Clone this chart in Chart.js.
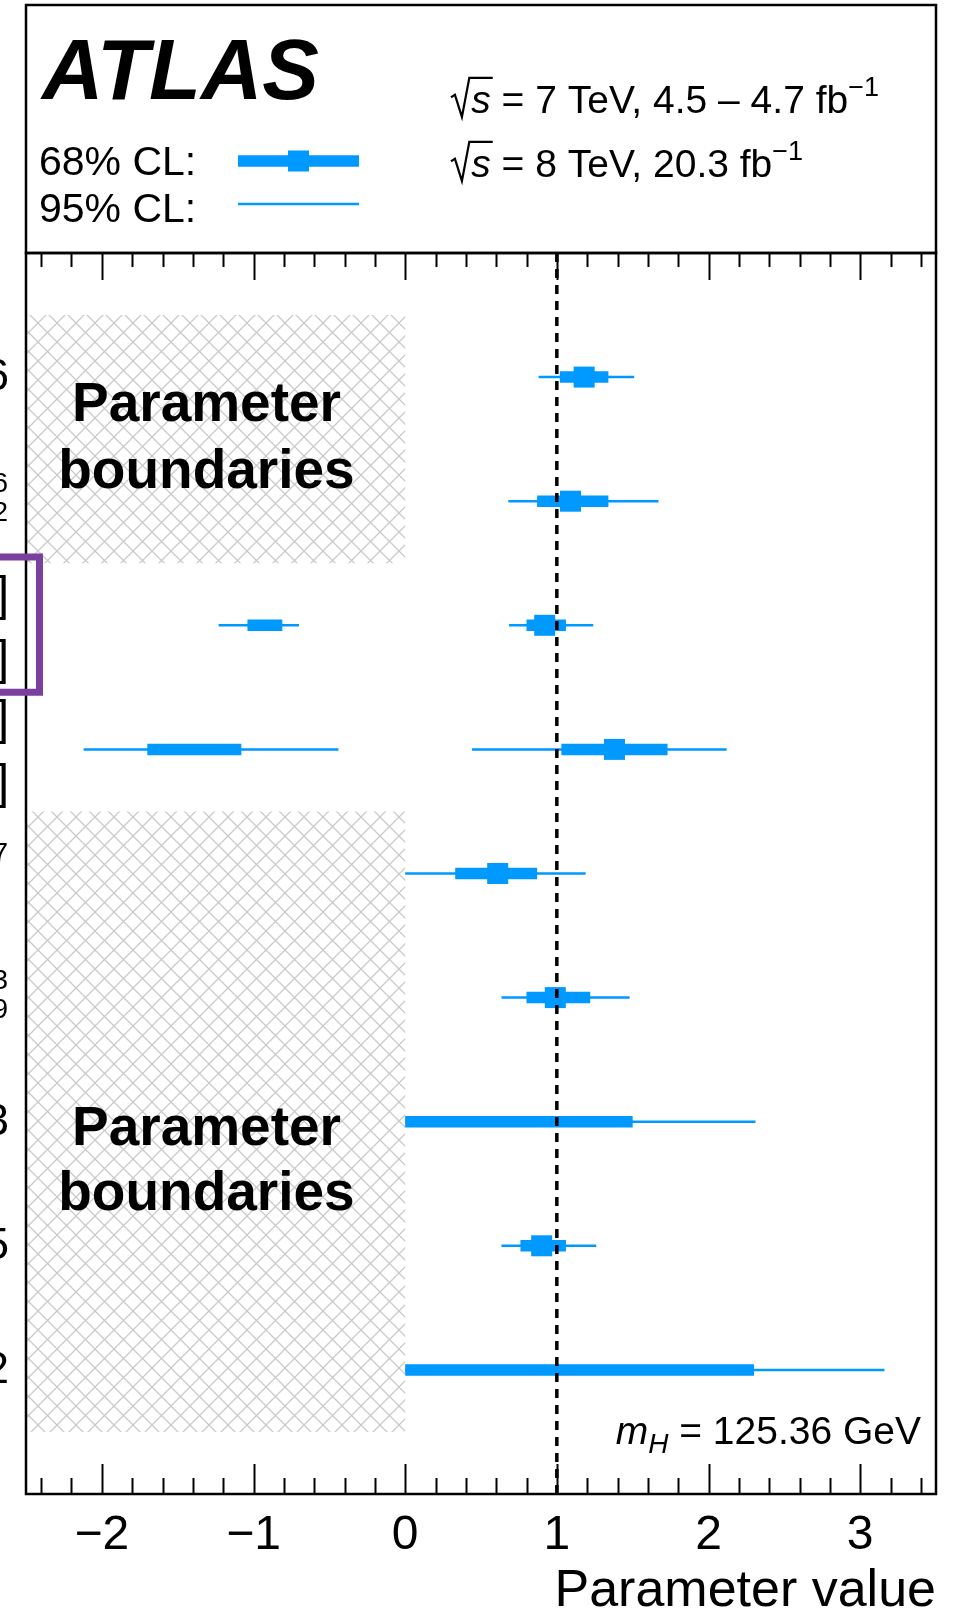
<!DOCTYPE html>
<html>
<head>
<meta charset="utf-8">
<script src="https://cdn.jsdelivr.net/npm/chart.js@4.4.1/dist/chart.umd.min.js"></script>
<style>
  html, body { margin: 0; padding: 0; background: #fff; }
  #wrap { width: 957px; height: 1608px; }
</style>
</head>
<body>
<div id="wrap"><canvas id="chart-params" width="957" height="1608"></canvas></div>
<script>
/*  ---------------------------- DATA ----------------------------  */
// one entry per interval; rows counted from the top
const rows     = [1,    2,    3,      3,     4,     4,    5,    6,     7,    8,     9];
const bestFit  = [1.18, 1.09, -0.925, 0.92,  -1.39, 1.38, 0.61, 0.99,  0.75, 0.90,  1.15];
const lo68     = [1.02, 0.87, -1.04,  0.80,  -1.70, 1.03, 0.33, 0.80,  0.00, 0.76,  0.00];
const hi68     = [1.34, 1.34, -0.81,  1.06,  -1.08, 1.73, 0.87, 1.22,  1.50, 1.06,  2.30];
const lo95     = [0.88, 0.68, -1.23,  0.685, -2.12, 0.44, 0.00, 0.635, 0.00, 0.635, 0.00];
const hi95     = [1.51, 1.67, -0.70,  1.24,  -0.44, 2.12, 1.19, 1.48,  2.31, 1.26,  3.16];
const hasMarker = [true, true, false, true,  false, true, true, true,  false, true, false];

const xTicks = [-2, -1, 0, 1, 2, 3];
const xTickLabels = ["\u22122", "\u22121", "0", "1", "2", "3"];
const smValue = 1;

// hatched "Parameter boundaries" areas: x from -2.5 to 0, y in row units
const boundaryRows = [[0.5, 2.5], [4.5, 9.5]];
const boundaryText = ["Parameter", "boundaries"];

// right ends of the row labels that survive the crop on the left
const rowLabelEnds = [["6"], ["6", "2"], ["]", "]"], ["]", "]"], ["7"], ["3", "9"], ["3"], ["5"], ["2"]];
/*  --------------------------------------------------------------  */

const BLUE = "#0099ff";
const FONT = "'Liberation Sans', Arial, Helvetica, sans-serif";

function ciSegments(lo, hi) {
  const pts = [];
  rows.forEach((r, i) => {
    pts.push({ x: lo[i], y: r }, { x: hi[i], y: r }, { x: null, y: null });
  });
  return pts;
}

function makeHatch(ctx) {
  const p = 19;
  const c = document.createElement("canvas");
  c.width = p;
  c.height = p;
  const g = c.getContext("2d");
  g.strokeStyle = "#cacaca";
  g.lineWidth = 1.3;
  g.beginPath();
  for (const dx of [-p, 0, p]) {
    g.moveTo(dx, 0); g.lineTo(dx + p, p);
    g.moveTo(dx + p, 0); g.lineTo(dx, p);
  }
  g.stroke();
  return ctx.createPattern(c, "repeat");
}

// text made of pieces with their own font and vertical shift
function drawRich(ctx, parts, x, y, align) {
  let w = 0;
  parts.forEach((p) => { ctx.font = p.font; w += ctx.measureText(p.t).width; });
  let cx = align === "right" ? x - w : x;
  ctx.textAlign = "left";
  ctx.textBaseline = "alphabetic";
  parts.forEach((p) => {
    ctx.font = p.font;
    ctx.fillText(p.t, cx, y + (p.dy || 0));
    cx += ctx.measureText(p.t).width;
  });
  return cx;
}

function drawSqrtS(ctx, x, b, size, rest) {
  ctx.font = `italic ${size}px ${FONT}`;
  const sw = ctx.measureText("s").width;
  ctx.save();
  ctx.lineWidth = 2.2;
  ctx.lineJoin = "miter";
  ctx.beginPath();
  ctx.moveTo(x, b - 0.40 * size);
  ctx.lineTo(x + 0.10 * size, b - 0.47 * size);
  ctx.lineTo(x + 0.28 * size, b + 0.10 * size);
  ctx.lineTo(x + 0.47 * size, b - 0.90 * size);
  ctx.lineTo(x + 0.52 * size + sw + 0.05 * size, b - 0.90 * size);
  ctx.stroke();
  ctx.restore();
  ctx.fillStyle = "#000";
  drawRich(ctx, [{ t: "s", font: `italic ${size}px ${FONT}` }].concat(rest), x + 0.52 * size, b, "left");
}

const decorations = {
  id: "decorations",
  beforeDatasetsDraw(chart) {
    const { ctx, scales: { x, y } } = chart;
    ctx.save();
    ctx.fillStyle = makeHatch(ctx);
    boundaryRows.forEach(([y0, y1]) => {
      const x0 = x.getPixelForValue(-2.5), x1 = x.getPixelForValue(0);
      const p0 = y.getPixelForValue(y0), p1 = y.getPixelForValue(y1);
      ctx.fillRect(x0, p0, x1 - x0, p1 - p0);
    });
    ctx.fillStyle = "#000";
    ctx.font = `bold 55px ${FONT}`;
    ctx.textAlign = "center";
    ctx.textBaseline = "alphabetic";
    const cx = x.getPixelForValue(-1.31);
    [[1.35, 1.89], [7.19, 7.71]].forEach(([r0, r1]) => {
      ctx.fillText(boundaryText[0], cx, y.getPixelForValue(r0));
      ctx.fillText(boundaryText[1], cx, y.getPixelForValue(r1));
    });
    ctx.restore();
  },
  afterDatasetsDraw(chart) {
    const { ctx, chartArea: a, scales: { x, y } } = chart;
    ctx.save();
    ctx.strokeStyle = "#000";
    ctx.fillStyle = "#000";

    // frames
    ctx.lineWidth = 2.5;
    ctx.strokeRect(a.left, a.top, a.right - a.left, a.bottom - a.top);
    ctx.strokeRect(a.left, 5, a.right - a.left, a.top - 5);

    // ticks on top and bottom, pointing inwards
    ctx.lineWidth = 2;
    ctx.beginPath();
    for (let k = -12; k <= 17; k++) {
      const px = Math.round(x.getPixelForValue(k / 5)) + 0.5;
      const major = k % 5 === 0;
      ctx.moveTo(px, a.top); ctx.lineTo(px, a.top + (major ? 27 : 14));
      ctx.moveTo(px, a.bottom); ctx.lineTo(px, a.bottom - (major ? 30 : 16));
    }
    ctx.stroke();

    // ATLAS label and legend
    ctx.textAlign = "left";
    ctx.textBaseline = "alphabetic";
    ctx.font = `italic bold 85px ${FONT}`;
    ctx.fillText("ATLAS", 42, 99);

    ctx.font = `41px ${FONT}`;
    ctx.fillText("68% CL:", 39, 175);
    ctx.fillText("95% CL:", 39, 222);

    ctx.fillStyle = BLUE;
    ctx.fillRect(238, 161 - 5.75, 121, 11.5);
    ctx.fillRect(298.5 - 10.5, 161 - 10.5, 21, 21);
    ctx.fillRect(238, 204 - 1.25, 121, 2.5);

    ctx.fillStyle = "#000";
    const f = `39px ${FONT}`, fs = `27px ${FONT}`;
    drawSqrtS(ctx, 451, 113, 39, [
      { t: " = 7 TeV, 4.5 \u2013 4.7 fb", font: f },
      { t: "\u22121", font: fs, dy: -17 },
    ]);
    drawSqrtS(ctx, 451, 177, 39, [
      { t: " = 8 TeV, 20.3 fb", font: f },
      { t: "\u22121", font: fs, dy: -17 },
    ]);

    drawRich(ctx, [
      { t: "m", font: `italic 39px ${FONT}` },
      { t: "H", font: `italic 28px ${FONT}`, dy: 9 },
      { t: " = 125.36 GeV", font: `39px ${FONT}` },
    ], 921, 1444, "right");

    // cut-off row labels at the left edge
    ctx.textAlign = "right";
    rowLabelEnds.forEach((parts, i) => {
      const py = y.getPixelForValue(i + 1);
      if (parts[0] === "]") {
        ctx.font = `48px ${FONT}`;
        ctx.fillText("]", 9, py - 15);
        ctx.fillText("]", 9, py + 49);
      } else if (parts.length === 2) {
        ctx.font = `28px ${FONT}`;
        ctx.fillText(parts[0], 8, py - 9);
        ctx.fillText(parts[1], 8, py + 20);
      } else if (parts[0] === "7") {
        ctx.font = `28px ${FONT}`;
        ctx.fillText(parts[0], 8, py - 12);
      } else {
        ctx.font = `45px ${FONT}`;
        ctx.fillText(parts[0], 9, py + 13);
      }
    });

    // purple highlight box around row 3 label
    ctx.strokeStyle = "#7b3f9e";
    ctx.lineWidth = 7;
    ctx.beginPath();
    ctx.moveTo(-10, y.getPixelForValue(2.45));
    ctx.lineTo(a.left + 13.5, y.getPixelForValue(2.45));
    ctx.lineTo(a.left + 13.5, y.getPixelForValue(3.54));
    ctx.lineTo(-10, y.getPixelForValue(3.54));
    ctx.stroke();

    ctx.restore();
  },
};

const canvas = document.getElementById("chart-params");
const ctx = canvas.getContext("2d");

new Chart(ctx, {
  type: "scatter",
  data: {
    datasets: [
      {
        label: "SM",
        data: [{ x: smValue, y: 0 }, { x: smValue, y: 10 }],
        showLine: true,
        borderColor: "#000",
        borderWidth: 3.5,
        borderDash: [9, 7],
        pointRadius: 0,
      },
      {
        label: "best fit",
        data: rows.map((r, i) => ({ x: bestFit[i], y: r })).filter((p, i) => hasMarker[i]),
        pointStyle: "rect",
        pointRadius: 14.85,
        pointBorderWidth: 0,
        backgroundColor: BLUE,
        borderColor: BLUE,
      },
      {
        label: "68% CL",
        data: ciSegments(lo68, hi68),
        showLine: true,
        spanGaps: false,
        borderColor: BLUE,
        borderWidth: 11.5,
        borderCapStyle: "butt",
        pointRadius: 0,
      },
      {
        label: "95% CL",
        data: ciSegments(lo95, hi95),
        showLine: true,
        spanGaps: false,
        borderColor: BLUE,
        borderWidth: 2.5,
        borderCapStyle: "butt",
        pointRadius: 0,
      },
    ],
  },
  options: {
    responsive: false,
    animation: false,
    devicePixelRatio: 1,
    events: [],
    layout: { padding: { top: 253, left: 26, right: 21, bottom: 0 } },
    plugins: { legend: { display: false }, tooltip: { enabled: false } },
    scales: {
      x: {
        type: "linear",
        position: "bottom",
        min: -2.5,
        max: 3.5,
        afterBuildTicks: (scale) => { scale.ticks = xTicks.map((v) => ({ value: v })); },
        afterFit: (scale) => { scale.height = 114; },
        grid: { display: false, drawTicks: false },
        border: { display: false },
        ticks: {
          color: "#000",
          font: { family: FONT, size: 48 },
          padding: 13,
          maxRotation: 0,
          autoSkip: false,
          callback: (v) => xTickLabels[xTicks.indexOf(v)],
        },
        title: {
          display: true,
          text: "Parameter value",
          align: "end",
          color: "#000",
          font: { family: FONT, size: 52, lineHeight: 0.62 },
          padding: 0,
        },
      },
      y: { type: "linear", min: 0, max: 10, reverse: true, display: false },
    },
  },
  plugins: [decorations],
});
</script>
</body>
</html>
